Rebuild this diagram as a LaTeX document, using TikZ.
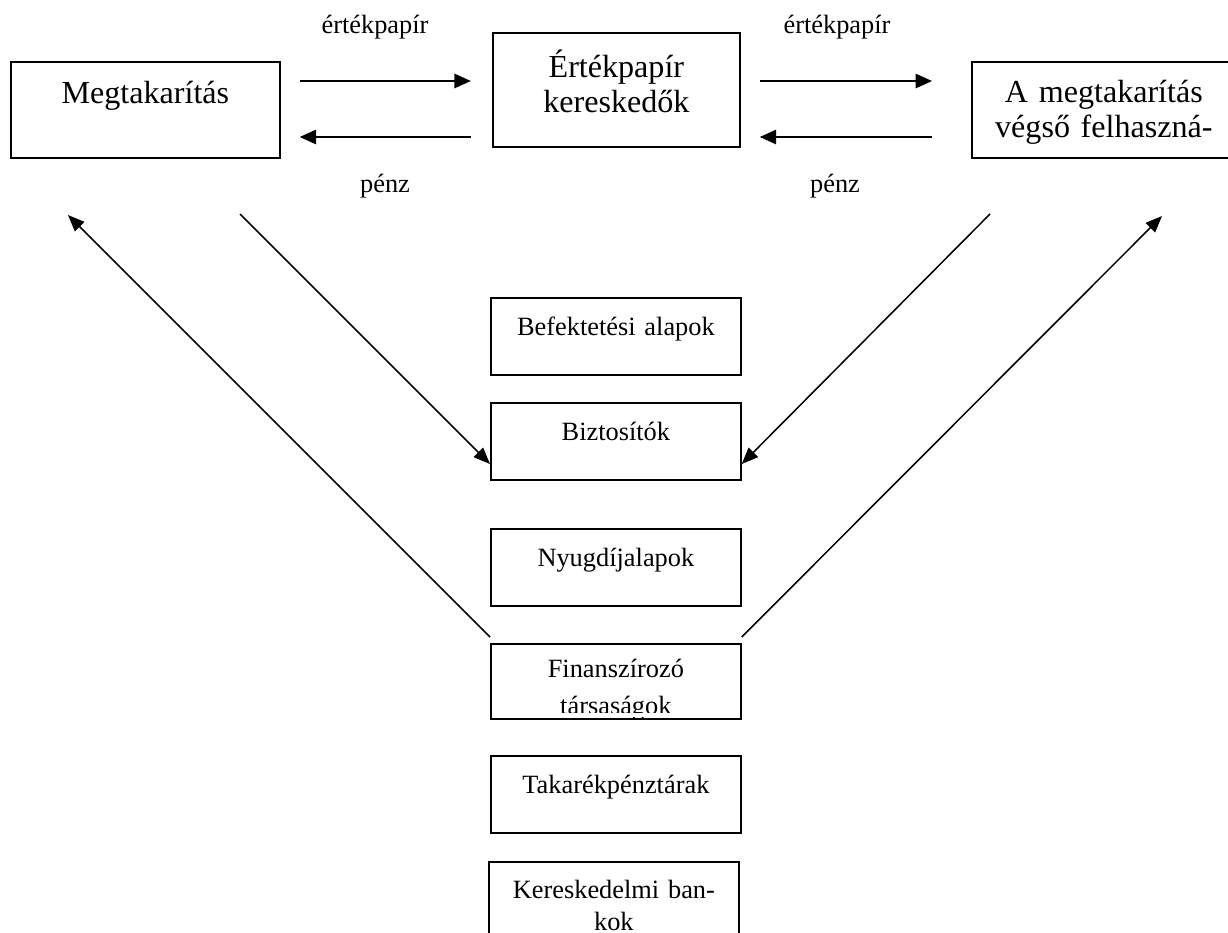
\documentclass[tikz,border=0pt]{standalone}
\usepackage{fontspec}
\setmainfont{Liberation Serif}
\usetikzlibrary{arrows.meta, positioning, calc}

\tikzset{
  bigbox/.style={draw, line width=0.8pt, inner sep=0pt, align=center, font=\fontsize{14.6}{15.9}\selectfont},
  smallbox/.style={draw, line width=0.8pt, inner sep=0pt, align=center, text width=113.75pt, font=\fontsize{12}{13.8}\selectfont},
  flow/.style={line width=0.9pt, -{Triangle[length=7.5pt,width=6.5pt]}},
  link/.style={line width=0.7pt, -{Triangle[length=7.5pt,width=6pt]}},
  lbl/.style={font=\fontsize{12}{13.8}\selectfont, anchor=base}
}

\begin{document}
\begin{tikzpicture}[x=0.455pt, y=-0.455pt]
% Frame
\useasboundingbox (0,0) rectangle (1228,932);
\clip (0,0) rectangle (1228,932);

% Top row
\node[bigbox, text width=122.4pt, text height=19.1pt, text depth=24.6pt, anchor=north west] (megt) at (10,61) {Megtakarítás};
\node[bigbox, text width=112.4pt, text height=20.5pt, text depth=31.4pt, anchor=north west] (ertek) at (492,32) {Értékpapír\\kereskedők};
\node[bigbox, text width=120.1pt, text height=18.7pt, text depth=25pt, anchor=north west] (vegso) at (971,61) {A megtakarítás\\végső felhaszná-};

% Flows between the top boxes
\draw[flow, shorten <=8.6pt, shorten >=9.6pt] (megt.east |- 0,81) -- (ertek.west |- 0,81);
\draw[flow, shorten <=9.6pt, shorten >=8.6pt] (ertek.west |- 0,137) -- (megt.east |- 0,137);
\draw[flow, shorten <=8.6pt, shorten >=17.7pt] (ertek.east |- 0,81) -- (vegso.west |- 0,81);
\draw[flow, shorten <=17.7pt, shorten >=8.6pt] (vegso.west |- 0,137) -- (ertek.east |- 0,137);

\node[lbl] (papir1) at (375,33) {értékpapír};
\node[lbl] (papir2) at (837,33) {értékpapír};
\node[lbl] (penz1) at (385,192) {pénz};
\node[lbl] (penz2) at (835,192) {pénz};

% Middle column
\foreach \name/\txt/\y in {befekt/Befektetési alapok/297, biztos/Biztosítók/402, nyugdij/Nyugdíjalapok/528, takarek/Takarékpénztárak/755}
  \node[smallbox, text height=17pt, text depth=18pt, anchor=north west] (\name) at (490,\y) {\txt};

\node[smallbox, text height=15.5pt, text depth=18.7pt, font=\fontsize{12}{16.8}\selectfont, anchor=north west] (finansz) at (490,643) {Finanszírozó\\társaságok};
% second line is cut off at the bottom
\fill[white] (491.5,712.5) rectangle (738.5,717);
\node[smallbox, text height=16.8pt, text depth=23pt, font=\fontsize{12}{14.6}\selectfont, anchor=north west] (keresk) at (488,861) {Kereskedelmi ban-\\kok};

% Diagonal flows
\coordinate (megtIn) at (68,215);
\coordinate (megtOut) at (240,214);
\coordinate (vegsoOut) at (990,214);
\coordinate (vegsoIn) at (1162,216);
\draw[link] (finansz.north west |- 0,637) -- (megtIn);
\draw[link] (megtOut) -- (biztos.west |- 0,464);
\draw[link] (vegsoOut) -- (biztos.east |- 0,464);
\draw[link] (finansz.north east |- 0,637) -- (vegsoIn);
\end{tikzpicture}
\end{document}
